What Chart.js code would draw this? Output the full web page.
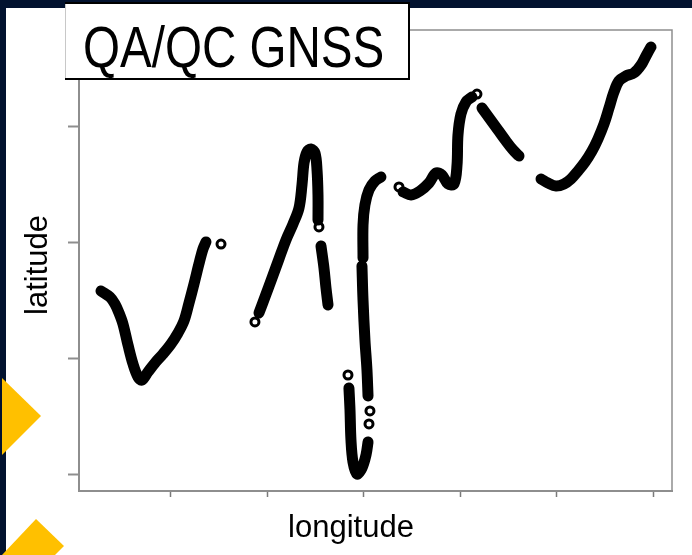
<!DOCTYPE html>
<html>
<head>
<meta charset="utf-8">
<script src="https://cdn.jsdelivr.net/npm/chart.js@4.4.1/dist/chart.umd.min.js"></script>
<style>
  html, body { margin: 0; padding: 0; background: #fff; }
  canvas { display: block; }
</style>
</head>
<body>
<canvas id="chart" width="692" height="555"></canvas>
<script>
// tick positions (no labels shown in the original)
const xTicks = [1, 2, 3, 4, 5, 6];
const yTicks = [1, 2, 3, 4];

// GNSS track, null = break between recorded runs
const trackLon = [
  0.274, 0.367, 0.419, 0.461, 0.502, 0.554, 0.606, 0.658, 0.699, 0.761, 0.834, 0.917, 1.000, 1.073, 1.135, 1.187, 1.239, 1.290, 1.332, 1.363, null,
  1.913, 1.975, 2.048, 2.120, 2.193, 2.266, 2.328, 2.359, 2.380, 2.411, 2.452, 2.494, 2.515, 2.525, 2.525, null,
  2.556, 2.587, 2.608, 2.629, null,
  3.178, 3.116, 3.054, 3.012, 2.992, 2.992, null,
  2.981, 2.992, 3.012, 3.033, 3.044, null,
  2.846, 2.857, 2.867, 2.888, 2.929, 2.981, 3.023, 3.044, null,
  3.407, 3.490, 3.583, 3.676, 3.749, 3.811, 3.873, 3.936, 3.967, 3.977, 4.008, 4.060, 4.122, null,
  4.226, 4.309, 4.392, 4.475, 4.548, 4.610, null,
  4.838, 4.911, 4.994, 5.077, 5.149, 5.222, 5.295, 5.367, 5.429, 5.492, 5.544, 5.595, 5.647, 5.720, 5.803, 5.876, 5.927, 5.979
];
const trackLat = [
  2.586, 2.534, 2.474, 2.397, 2.302, 2.121, 1.957, 1.845, 1.819, 1.888, 1.966, 2.043, 2.129, 2.224, 2.328, 2.483, 2.647, 2.819, 2.948, 3.009, null,
  2.397, 2.534, 2.698, 2.862, 3.026, 3.164, 3.302, 3.500, 3.690, 3.784, 3.810, 3.776, 3.629, 3.414, 3.198, null,
  2.974, 2.784, 2.612, 2.466, null,
  3.569, 3.534, 3.457, 3.328, 3.155, 2.871, null,
  2.802, 2.509, 2.164, 1.905, 1.681, null,
  1.750, 1.560, 1.302, 1.112, 1.009, 1.060, 1.172, 1.284, null,
  3.440, 3.414, 3.448, 3.517, 3.603, 3.586, 3.509, 3.509, 3.672, 3.931, 4.112, 4.216, 4.259, null,
  4.164, 4.069, 3.974, 3.879, 3.802, 3.750, null,
  3.552, 3.517, 3.491, 3.509, 3.552, 3.621, 3.698, 3.793, 3.897, 4.026, 4.164, 4.302, 4.397, 4.440, 4.466, 4.534, 4.612, 4.690
];

// isolated fixes drawn as open circles
const strayLon = [1.519, 1.871, 2.535, 2.836, 3.064, 3.054, 3.365, 4.174];
const strayLat = [2.991, 2.319, 3.138, 1.862, 1.552, 1.440, 3.483, 4.284];

const axisGrey = '#8e8e8e';

const pagePlugin = {
  id: 'page',
  beforeDraw(chart) {
    const ctx = chart.ctx;
    ctx.save();
    ctx.fillStyle = '#ffffff';
    ctx.fillRect(0, 0, chart.width, chart.height);
    // dark slide border
    ctx.fillStyle = '#02122f';
    ctx.fillRect(0, 0, chart.width, 8);
    ctx.fillRect(0, 0, 6, chart.height);
    // yellow decorations
    ctx.fillStyle = '#ffc000';
    ctx.beginPath();
    ctx.moveTo(2, 378); ctx.lineTo(41, 416); ctx.lineTo(2, 455);
    ctx.closePath(); ctx.fill();
    ctx.beginPath();
    ctx.moveTo(2, 555); ctx.lineTo(36, 519); ctx.lineTo(64, 546); ctx.lineTo(55, 555);
    ctx.closePath(); ctx.fill();
    ctx.restore();
  },
  beforeDatasetsDraw(chart) {
    const a = chart.chartArea;
    const ctx = chart.ctx;
    ctx.save();
    ctx.strokeStyle = axisGrey;
    ctx.lineWidth = 1.5;
    ctx.strokeRect(a.left, a.top, a.right - a.left, a.bottom - a.top);
    ctx.restore();
  },
  afterDraw(chart) {
    const ctx = chart.ctx;
    ctx.save();
    ctx.fillStyle = '#000';
    ctx.font = '31px "Liberation Sans", Arial, sans-serif';
    ctx.textAlign = 'center';
    ctx.textBaseline = 'alphabetic';
    ctx.fillText('longitude', 351, 537);
    ctx.translate(47, 265);
    ctx.rotate(-Math.PI / 2);
    ctx.fillText('latitude', 0, 0);
    ctx.restore();

    // title box
    ctx.save();
    ctx.fillStyle = '#fff';
    ctx.fillRect(65, 2, 345, 78);
    ctx.strokeStyle = '#c8c8c8';
    ctx.lineWidth = 1;
    ctx.beginPath(); ctx.moveTo(65.5, 2); ctx.lineTo(65.5, 80); ctx.stroke();
    ctx.strokeStyle = '#000';
    ctx.lineWidth = 2;
    ctx.beginPath();
    ctx.moveTo(65, 79); ctx.lineTo(409, 79); ctx.lineTo(409, 3); ctx.lineTo(65, 3);
    ctx.stroke();
    // narrow face: squeeze Liberation Sans horizontally
    ctx.fillStyle = '#000';
    ctx.font = '58px "Liberation Sans", Arial, sans-serif';
    ctx.textAlign = 'left';
    ctx.translate(83, 67);
    ctx.scale(0.82, 1);
    ctx.fillText('QA/QC GNSS', 0, 0);
    ctx.restore();
  }
};

const trackData = trackLon.map((x, i) => ({ x: x, y: trackLat[i] }));
const strayData = strayLon.map((x, i) => ({ x: x, y: strayLat[i] }));

new Chart(document.getElementById('chart'), {
  type: 'scatter',
  data: {
    datasets: [{
      label: 'track',
      data: trackData,
      showLine: true,
      spanGaps: false,
      borderColor: '#000',
      borderWidth: 11,
      borderCapStyle: 'round',
      borderJoinStyle: 'round',
      tension: 0.35,
      pointRadius: 0,
      pointHoverRadius: 0
    }, {
      label: 'stray',
      data: strayData,
      pointRadius: 4,
      pointBorderWidth: 3,
      pointBorderColor: '#000',
      pointBackgroundColor: '#fff'
    }]
  },
  options: {
    responsive: false,
    animation: false,
    devicePixelRatio: 1,
    layout: { padding: { left: 68, top: 30, right: 20, bottom: 58 } },
    plugins: { legend: { display: false }, tooltip: { enabled: false } },
    scales: {
      x: {
        type: 'linear',
        min: 0.046,
        max: 6.197,
        afterBuildTicks: axis => { axis.ticks = xTicks.map(v => ({ value: v })); },
        ticks: { display: false },
        grid: { drawOnChartArea: false, drawTicks: true, tickLength: 6, tickColor: '#7a7a7a', tickWidth: 1.5 },
        border: { color: axisGrey, width: 2 }
      },
      y: {
        type: 'linear',
        min: 0.862,
        max: 4.836,
        afterBuildTicks: axis => { axis.ticks = yTicks.map(v => ({ value: v })); },
        ticks: { display: false },
        grid: { drawOnChartArea: false, drawTicks: true, tickLength: 11, tickColor: axisGrey, tickWidth: 2 },
        border: { color: axisGrey, width: 2 }
      }
    }
  },
  plugins: [pagePlugin]
});
</script>
</body>
</html>
